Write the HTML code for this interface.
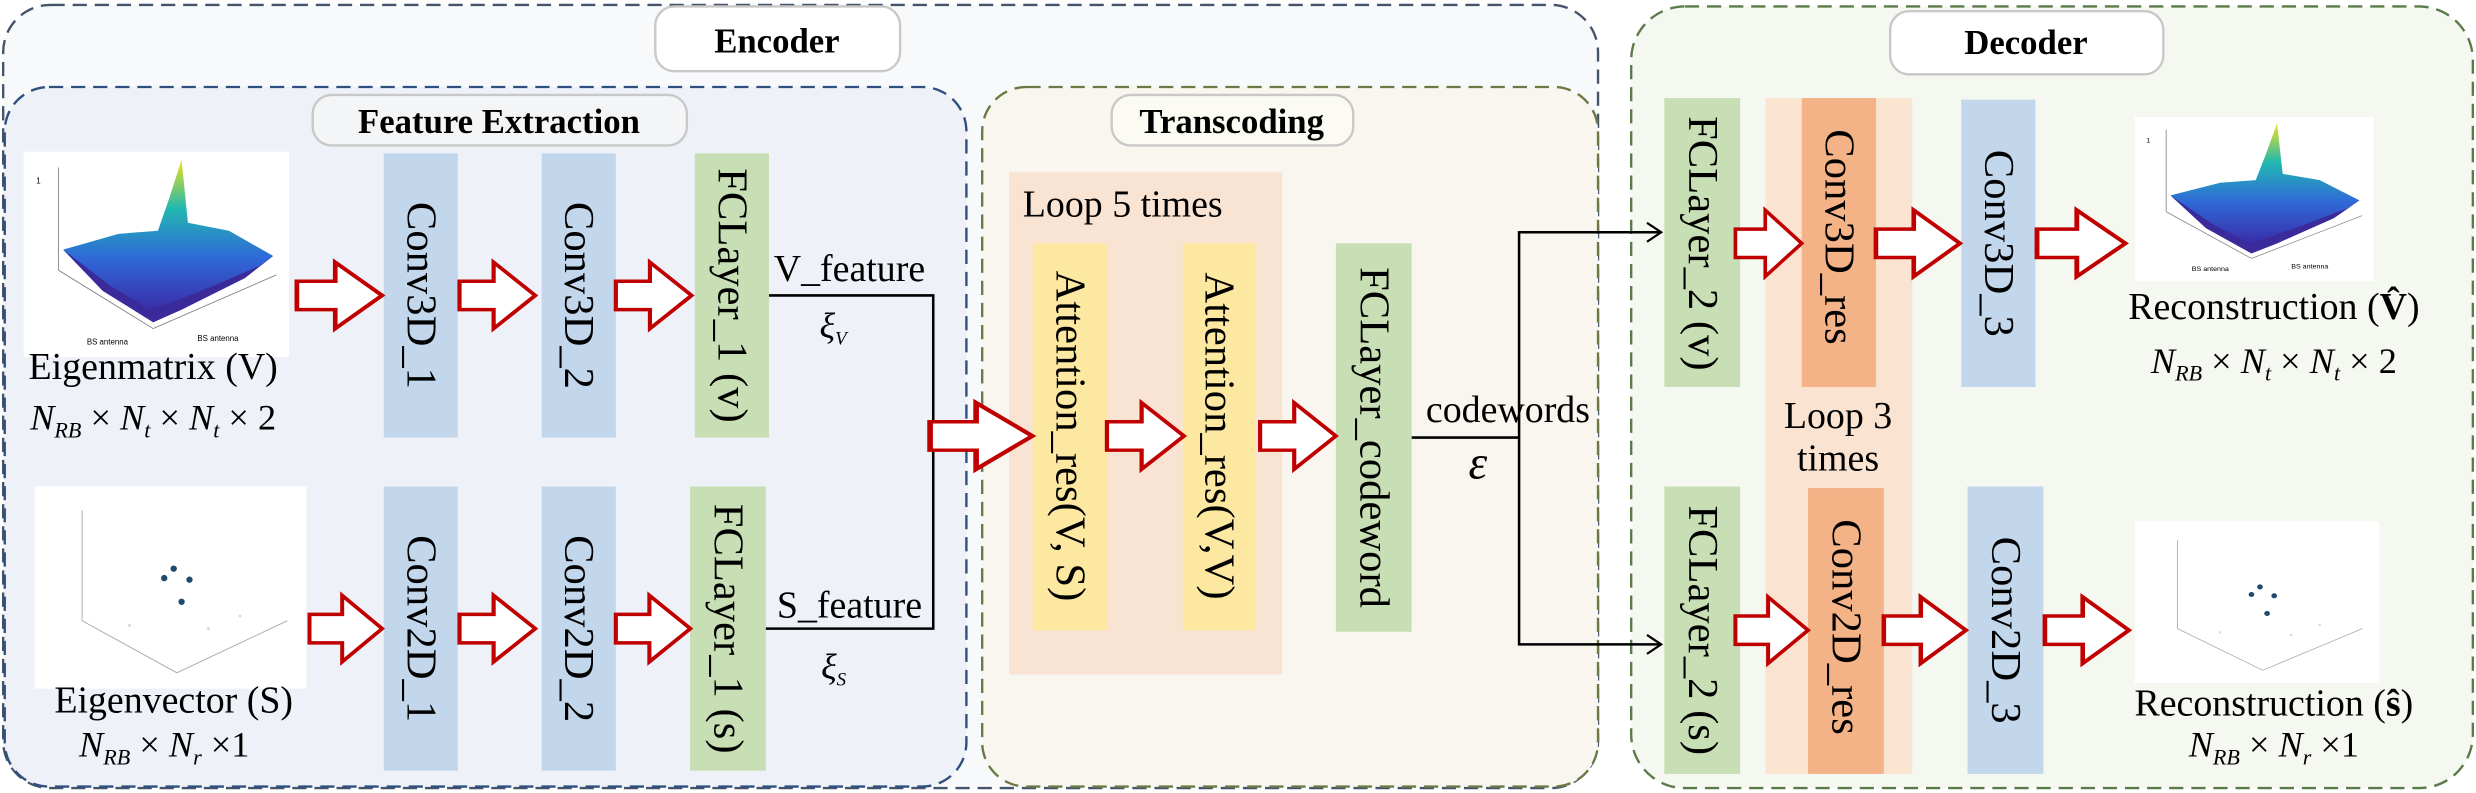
<!DOCTYPE html>
<html><head><meta charset="utf-8"><style>
html,body{margin:0;padding:0;background:#fff;}
svg{display:block;font-family:"Liberation Serif","Noto Serif CJK SC",serif;}
svg text{font-family:"Liberation Serif","Noto Serif CJK SC",serif;fill:#000;}
.b{font-weight:bold;font-size:22px;}
.v{font-size:27px;}
.h{font-size:24px;}
.m{font-size:23px;font-style:italic;}
</style></head><body>
<svg width="2476" height="793" viewBox="0 0 1568 502" xmlns="http://www.w3.org/2000/svg">
<defs>
<linearGradient id="surf" x1="0" y1="1" x2="0" y2="0">
<stop offset="0" stop-color="#3b1f9e"/><stop offset="0.4" stop-color="#2f6ad8"/><stop offset="0.7" stop-color="#21b8b0"/><stop offset="1" stop-color="#f2e21b"/>
</linearGradient>
<g id="arrow"><path d="M0,-9 L18,-9 L18,-21 L40,0 L18,21 L18,9 L0,9 Z" fill="#fff" stroke="#c00000" stroke-width="2.2"/></g>
<g id="plotV">
<rect x="0" y="0" width="168" height="130" fill="#fff"/>
<line x1="22" y1="10" x2="22" y2="75" stroke="#888" stroke-width="0.6"/>
<line x1="22" y1="75" x2="82" y2="112" stroke="#888" stroke-width="0.6"/>
<line x1="82" y1="112" x2="160" y2="78" stroke="#888" stroke-width="0.6"/>
<path d="M25,62 L60,52 L85,50 L92,30 L100,5 L104,45 L130,50 L158,66 L140,80 L100,100 L82,108 L50,88 Z" fill="url(#surf)"/>
<path d="M25,62 L50,88 L82,108 L100,100 L140,80 L158,66 L150,72 L120,85 L95,95 L80,100 L55,85 Z" fill="#3a2a9a"/>
<text x="8" y="20" style="font-size:5px;font-family:'Liberation Sans',sans-serif">1</text>
<text x="40" y="122" style="font-size:5px;font-family:'Liberation Sans',sans-serif">BS antenna</text>
<text x="110" y="120" style="font-size:5px;font-family:'Liberation Sans',sans-serif">BS antenna</text>
</g>
<g id="plotS">
<rect x="0" y="0" width="172" height="128" fill="#fff"/>
<line x1="30" y1="15" x2="30" y2="85" stroke="#aaa" stroke-width="0.6"/>
<line x1="30" y1="85" x2="90" y2="118" stroke="#aaa" stroke-width="0.6"/>
<line x1="90" y1="118" x2="160" y2="85" stroke="#aaa" stroke-width="0.6"/>
<circle cx="88" cy="52" r="2" fill="#1d4a6e"/><circle cx="82" cy="58" r="2" fill="#1d4a6e"/><circle cx="98" cy="59" r="2" fill="#1d4a6e"/><circle cx="93" cy="73" r="2" fill="#1d4a6e"/>
<circle cx="60" cy="88" r="1" fill="#ddd"/><circle cx="110" cy="90" r="1" fill="#ddd"/><circle cx="130" cy="82" r="1" fill="#ddd"/>
</g>
</defs>

<rect x="2" y="3" width="1010" height="496" rx="30" fill="#f8f9fb" stroke="#44546a" stroke-width="1.5" stroke-dasharray="9 5"/>
<rect x="415" y="4" width="155" height="41" rx="12" fill="#fff" stroke="#c8c8c8" stroke-width="1.5"/>
<text class="b" x="492" y="33" text-anchor="middle">Encoder</text>

<rect x="3" y="55" width="609" height="443" rx="28" fill="#eef2f8" stroke="#2f4f7f" stroke-width="1.5" stroke-dasharray="9 5"/>
<rect x="198" y="60" width="237" height="32" rx="12" fill="#f4f5f7" stroke="#c8c8c8" stroke-width="1.5"/>
<text class="b" x="316" y="84" text-anchor="middle">Feature Extraction</text>

<rect x="622" y="55" width="390" height="443" rx="28" fill="#f8f6ee" stroke="#6b7a45" stroke-width="1.5" stroke-dasharray="9 5"/>
<rect x="704" y="60" width="153" height="32" rx="12" fill="#fbfaf3" stroke="#c8c8c8" stroke-width="1.5"/>
<text class="b" x="780" y="84" text-anchor="middle">Transcoding</text>

<rect x="1033" y="4" width="533" height="495" rx="34" fill="#f5f8f0" stroke="#5a7a4a" stroke-width="1.5" stroke-dasharray="9 5"/>
<rect x="1197" y="7" width="173" height="40" rx="12" fill="#fff" stroke="#c8c8c8" stroke-width="1.5"/>
<text class="b" x="1283" y="34" text-anchor="middle">Decoder</text>

<use href="#plotV" x="15" y="96"/>
<use href="#plotS" x="22" y="308"/>
<text class="h" x="97" y="240" text-anchor="middle">Eigenmatrix (V)</text>
<text class="m" x="97" y="272" text-anchor="middle">N<tspan font-size="14" dy="5">RB</tspan><tspan font-style="normal" dy="-5"> × </tspan>N<tspan font-size="14" dy="5">t</tspan><tspan font-style="normal" dy="-5"> × </tspan>N<tspan font-size="14" dy="5">t</tspan><tspan font-style="normal" dy="-5"> × 2</tspan></text>
<text class="h" x="110" y="451" text-anchor="middle">Eigenvector (S)</text>
<text class="m" x="104" y="479" text-anchor="middle">N<tspan font-size="14" dy="5">RB</tspan><tspan font-style="normal" dy="-5"> × </tspan>N<tspan font-size="14" dy="5">r</tspan><tspan font-style="normal" dy="-5"> ×1</tspan></text>

<rect x="243" y="97" width="47" height="180" fill="#c3d7ec"/>
<rect x="343" y="97" width="47" height="180" fill="#c3d7ec"/>
<rect x="440" y="97" width="47" height="180" fill="#c8dfb5"/>
<rect x="243" y="308" width="47" height="180" fill="#c3d7ec"/>
<rect x="343" y="308" width="47" height="180" fill="#c3d7ec"/>
<rect x="437" y="308" width="48" height="180" fill="#c8dfb5"/>
<text class="v" transform="translate(266.5,187) rotate(90)" text-anchor="middle" dominant-baseline="central">Conv3D_1</text>
<text class="v" transform="translate(366.5,187) rotate(90)" text-anchor="middle" dominant-baseline="central">Conv3D_2</text>
<text class="v" transform="translate(463.5,187) rotate(90)" text-anchor="middle" dominant-baseline="central">FCLayer_1 (v)</text>
<text class="v" transform="translate(266.5,398) rotate(90)" text-anchor="middle" dominant-baseline="central">Conv2D_1</text>
<text class="v" transform="translate(366.5,398) rotate(90)" text-anchor="middle" dominant-baseline="central">Conv2D_2</text>
<text class="v" transform="translate(461,398) rotate(90)" text-anchor="middle" dominant-baseline="central">FCLayer_1 (s)</text>

<use href="#arrow" transform="translate(188,187) scale(1.35,1)"/>
<use href="#arrow" transform="translate(291,187) scale(1.2,1)"/>
<use href="#arrow" transform="translate(390,187) scale(1.2,1)"/>
<use href="#arrow" transform="translate(196,398) scale(1.15,1)"/>
<use href="#arrow" transform="translate(291,398) scale(1.2,1)"/>
<use href="#arrow" transform="translate(390,398) scale(1.18,1)"/>

<text class="h" x="490" y="178">V_feature</text>
<text class="m" x="519" y="214" font-size="20">ξ<tspan font-size="12" dy="4">V</tspan></text>
<text class="h" x="492" y="391">S_feature</text>
<text class="m" x="520" y="430" font-size="20">ξ<tspan font-size="12" dy="4">S</tspan></text>
<polyline points="487,187 591,187 591,398 485,398" fill="none" stroke="#000" stroke-width="1.6"/>

<rect x="639" y="109" width="173" height="318" fill="#f9e4d3"/>
<text class="h" x="711" y="137" text-anchor="middle">Loop 5 times</text>
<rect x="654" y="154" width="47" height="245" fill="#fde8a2"/>
<rect x="749" y="154" width="46" height="245" fill="#fde8a2"/>
<rect x="846" y="154" width="48" height="246" fill="#c8dfb5"/>
<text class="v" transform="translate(677.5,276) rotate(90)" text-anchor="middle" dominant-baseline="central">Attention_res(V, S)</text>
<text class="v" transform="translate(772,276) rotate(90)" text-anchor="middle" dominant-baseline="central">Attention_res(V,V)</text>
<text class="v" transform="translate(870,277) rotate(90)" text-anchor="middle" dominant-baseline="central">FCLayer_codeword</text>
<use href="#arrow" transform="translate(589,276) scale(1.62,1)"/>
<use href="#arrow" transform="translate(701,276) scale(1.22,1)"/>
<use href="#arrow" transform="translate(798,276) scale(1.2,1)"/>

<text class="h" x="903" y="267">codewords</text>
<text x="930" y="303" style="font-size:30px;font-style:italic">ε</text>
<polyline points="894,277 962,277" fill="none" stroke="#000" stroke-width="1.6"/>
<polyline points="1051,147 962,147 962,408 1051,408" fill="none" stroke="#000" stroke-width="1.6"/>
<polyline points="1043,141 1052,147 1043,153" fill="none" stroke="#000" stroke-width="1.4"/>
<polyline points="1043,402 1052,408 1043,414" fill="none" stroke="#000" stroke-width="1.4"/>

<rect x="1118" y="62" width="93" height="428" fill="#fbe3d2"/>
<rect x="1054" y="62" width="48" height="183" fill="#c8dfb5"/>
<rect x="1141" y="62" width="47" height="183" fill="#f4b287"/>
<rect x="1242" y="63" width="47" height="182" fill="#c3d7ec"/>
<rect x="1054" y="308" width="48" height="182" fill="#c8dfb5"/>
<rect x="1145" y="309" width="48" height="181" fill="#f4b287"/>
<rect x="1246" y="308" width="48" height="182" fill="#c3d7ec"/>
<text class="v" transform="translate(1078,154) rotate(90)" text-anchor="middle" dominant-baseline="central">FCLayer_2 (v)</text>
<text class="v" transform="translate(1164.5,150) rotate(90)" text-anchor="middle" dominant-baseline="central">Conv3D_res</text>
<text class="v" transform="translate(1265.5,154) rotate(90)" text-anchor="middle" dominant-baseline="central">Conv3D_3</text>
<text class="v" transform="translate(1078,399) rotate(90)" text-anchor="middle" dominant-baseline="central">FCLayer_2 (s)</text>
<text class="v" transform="translate(1169,397) rotate(90)" text-anchor="middle" dominant-baseline="central">Conv2D_res</text>
<text class="v" transform="translate(1270,399) rotate(90)" text-anchor="middle" dominant-baseline="central">Conv2D_3</text>
<text class="h" x="1164" y="271" text-anchor="middle">Loop 3</text>
<text class="h" x="1164" y="298" text-anchor="middle">times</text>

<use href="#arrow" transform="translate(1099,154) scale(1.05,1)"/>
<use href="#arrow" transform="translate(1188,154) scale(1.33,1)"/>
<use href="#arrow" transform="translate(1290,154) scale(1.4,1)"/>
<use href="#arrow" transform="translate(1099,399) scale(1.15,1)"/>
<use href="#arrow" transform="translate(1193,399) scale(1.3,1)"/>
<use href="#arrow" transform="translate(1295,399) scale(1.33,1)"/>

<use href="#plotV" transform="translate(1352,74) scale(0.9,0.8)"/>
<use href="#plotS" transform="translate(1352,330) scale(0.9,0.8)"/>
<text class="h" x="1440" y="202" text-anchor="middle">Reconstruction (<tspan font-weight="bold">V̂</tspan>)</text>
<text class="m" x="1440" y="236" text-anchor="middle">N<tspan font-size="14" dy="5">RB</tspan><tspan font-style="normal" dy="-5"> × </tspan>N<tspan font-size="14" dy="5">t</tspan><tspan font-style="normal" dy="-5"> × </tspan>N<tspan font-size="14" dy="5">t</tspan><tspan font-style="normal" dy="-5"> × 2</tspan></text>
<text class="h" x="1440" y="453" text-anchor="middle">Reconstruction (<tspan font-weight="bold">ŝ</tspan>)</text>
<text class="m" x="1440" y="479" text-anchor="middle">N<tspan font-size="14" dy="5">RB</tspan><tspan font-style="normal" dy="-5"> × </tspan>N<tspan font-size="14" dy="5">r</tspan><tspan font-style="normal" dy="-5"> ×1</tspan></text>
</svg>
</body></html>
